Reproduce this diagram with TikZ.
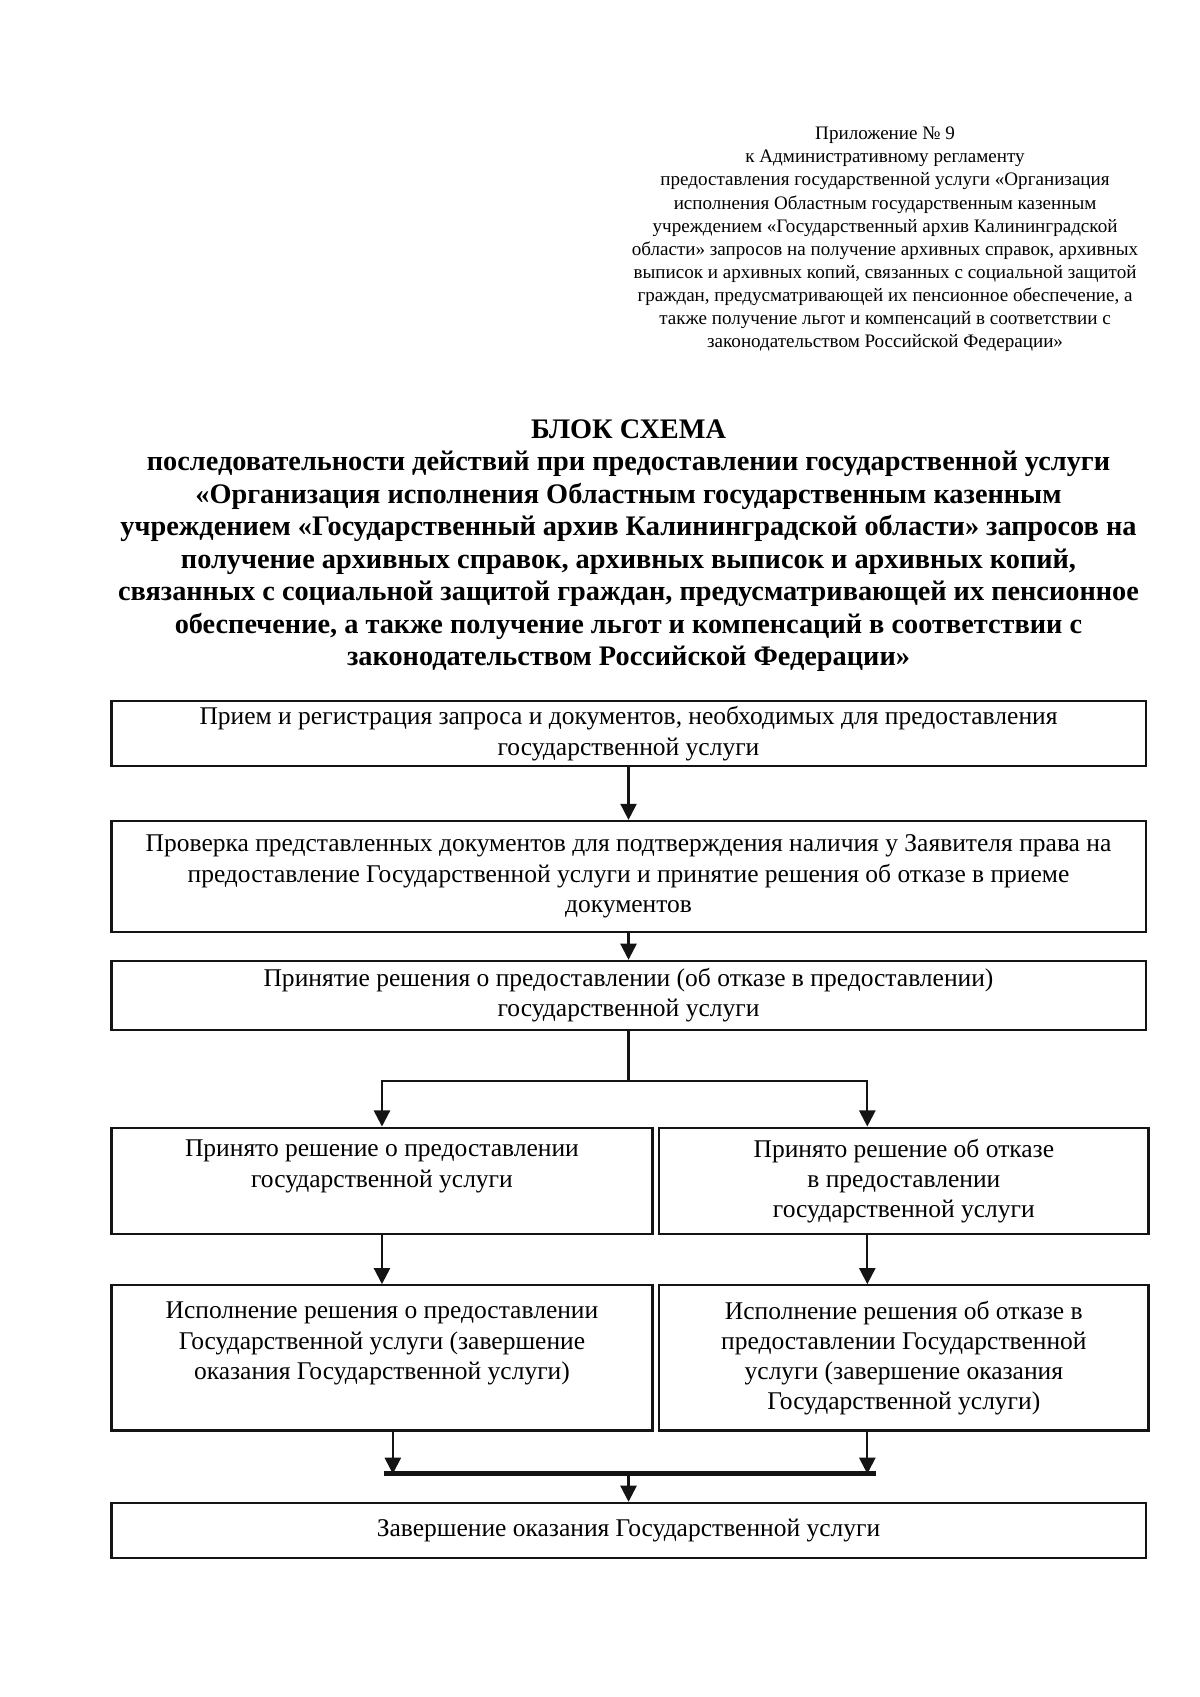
\documentclass[tikz,border=0pt]{standalone}
\usepackage{fontspec}
\setmainfont{Liberation Serif}
\usetikzlibrary{arrows.meta, positioning, calc}
\definecolor{inkblack}{RGB}{20,20,20}
\tikzset{
  base/.style={draw=inkblack, line width=1.1pt, align=center,
               font=\fontsize{12.7}{15}\selectfont, inner sep=2pt},
  widebox/.style  = {base, minimum width=18.1cm},
  leftbox/.style  = {base, minimum width=9.47cm},
  rightbox/.style = {base, minimum width=8.56cm},
  annex/.style    = {align=center, font=\fontsize{9.5}{11.5}\selectfont},
  heading/.style  = {align=center, font=\bfseries\fontsize{14.1}{16.2}\selectfont},
  arr/.style      = {-{Triangle[length=8pt, width=8pt]}, line width=1.1pt, color=inkblack},
  link/.style     = {line width=1.1pt, color=inkblack},
  joinbar/.style  = {line width=2.6pt, color=inkblack},
}
\begin{document}
\begin{tikzpicture}
  \useasboundingbox (0,0) rectangle (21,-29.7);

  % Annex note
  \node[annex] (annex) at (15.49,-4.19) {Приложение № 9\\
    к Административному регламенту\\
    предоставления государственной услуги «Организация\\
    исполнения Областным государственным казенным\\
    учреждением «Государственный архив Калининградской\\
    области» запросов на получение архивных справок, архивных\\
    выписок и архивных копий, связанных с социальной защитой\\
    граждан, предусматривающей их пенсионное обеспечение, а\\
    также получение льгот и компенсаций в соответствии с\\
    законодательством Российской Федерации»};

  % Title
  \node[heading] (title) at (11.0,-9.55) {БЛОК СХЕМА\\
    последовательности действий при предоставлении государственной услуги\\
    «Организация исполнения Областным государственным казенным\\
    учреждением «Государственный архив Калининградской области» запросов на\\
    получение архивных справок, архивных выписок и архивных копий,\\
    связанных с социальной защитой граждан, предусматривающей их пенсионное\\
    обеспечение, а также получение льгот и компенсаций в соответствии с\\
    законодательством Российской Федерации»};

  % Common steps
  \node[widebox, minimum height=1.14cm, anchor=north] (reg) at (11.0,-12.25)
    {Прием и регистрация запроса и документов, необходимых для предоставления\\государственной услуги};
  \node[widebox, minimum height=1.94cm, below=0.92cm of reg] (check)
    {Проверка представленных документов для подтверждения наличия у Заявителя права на\\предоставление Государственной услуги и принятие решения об отказе в приеме\\документов};
  \node[widebox, minimum height=1.21cm, below=0.47cm of check] (decide)
    {Принятие решения о предоставлении (об отказе в предоставлении)\\государственной услуги};
  \draw[arr] (reg) -- (check);
  \draw[arr] (check) -- (decide);

  % Two branches
  \node[leftbox, minimum height=1.86cm, text depth=0.6cm, below=1.67cm of decide.south west, anchor=north west] (granted)
    {Принято решение о предоставлении\\государственной услуги};
  \node[rightbox, minimum height=1.86cm, right=0.08cm of granted] (refused)
    {Принято решение об отказе\\в предоставлении\\государственной услуги};
  \node[leftbox, minimum height=2.54cm, text depth=0.6cm, below=0.86cm of granted] (dogrant)
    {Исполнение решения о предоставлении\\Государственной услуги (завершение\\оказания Государственной услуги)};
  \node[rightbox, minimum height=2.54cm, below=0.86cm of refused] (dorefuse)
    {Исполнение решения об отказе в\\предоставлении Государственной\\услуги (завершение оказания\\Государственной услуги)};

  % Final step
  \node[widebox, minimum height=0.97cm, below=1.23cm of dogrant.south west, anchor=north west] (finish)
    {Завершение оказания Государственной услуги};

  % Split and join points
  \coordinate (split) at ($(decide.south)+(0,-0.87)$);
  \coordinate (rcol) at ($(refused.north west)+(3.66,0)$);
  \coordinate (joinl) at ($(dogrant.south)+(0.04,-0.74)$);
  \coordinate (joinr) at ($(rcol |- dogrant.south)+(0.15,-0.74)$);

  \draw[link] (decide) -- (split);
  \draw[arr] (split) -| (granted);
  \draw[arr] (split) -| (rcol);
  \draw[arr] (granted) -- (dogrant);
  \draw[arr] (refused.south -| rcol) -- (dorefuse.north -| rcol);

  \draw[joinbar] (joinl) -- (joinr);
  \draw[arr] ($(dogrant.south)+(0.19,0)$) -- ($(dogrant.south)+(0.19,-0.74)$);
  \draw[arr] (dorefuse.south -| rcol) -- (joinr -| rcol);
  \draw[arr] (joinl -| finish.north) -- (finish);
\end{tikzpicture}
\end{document}
